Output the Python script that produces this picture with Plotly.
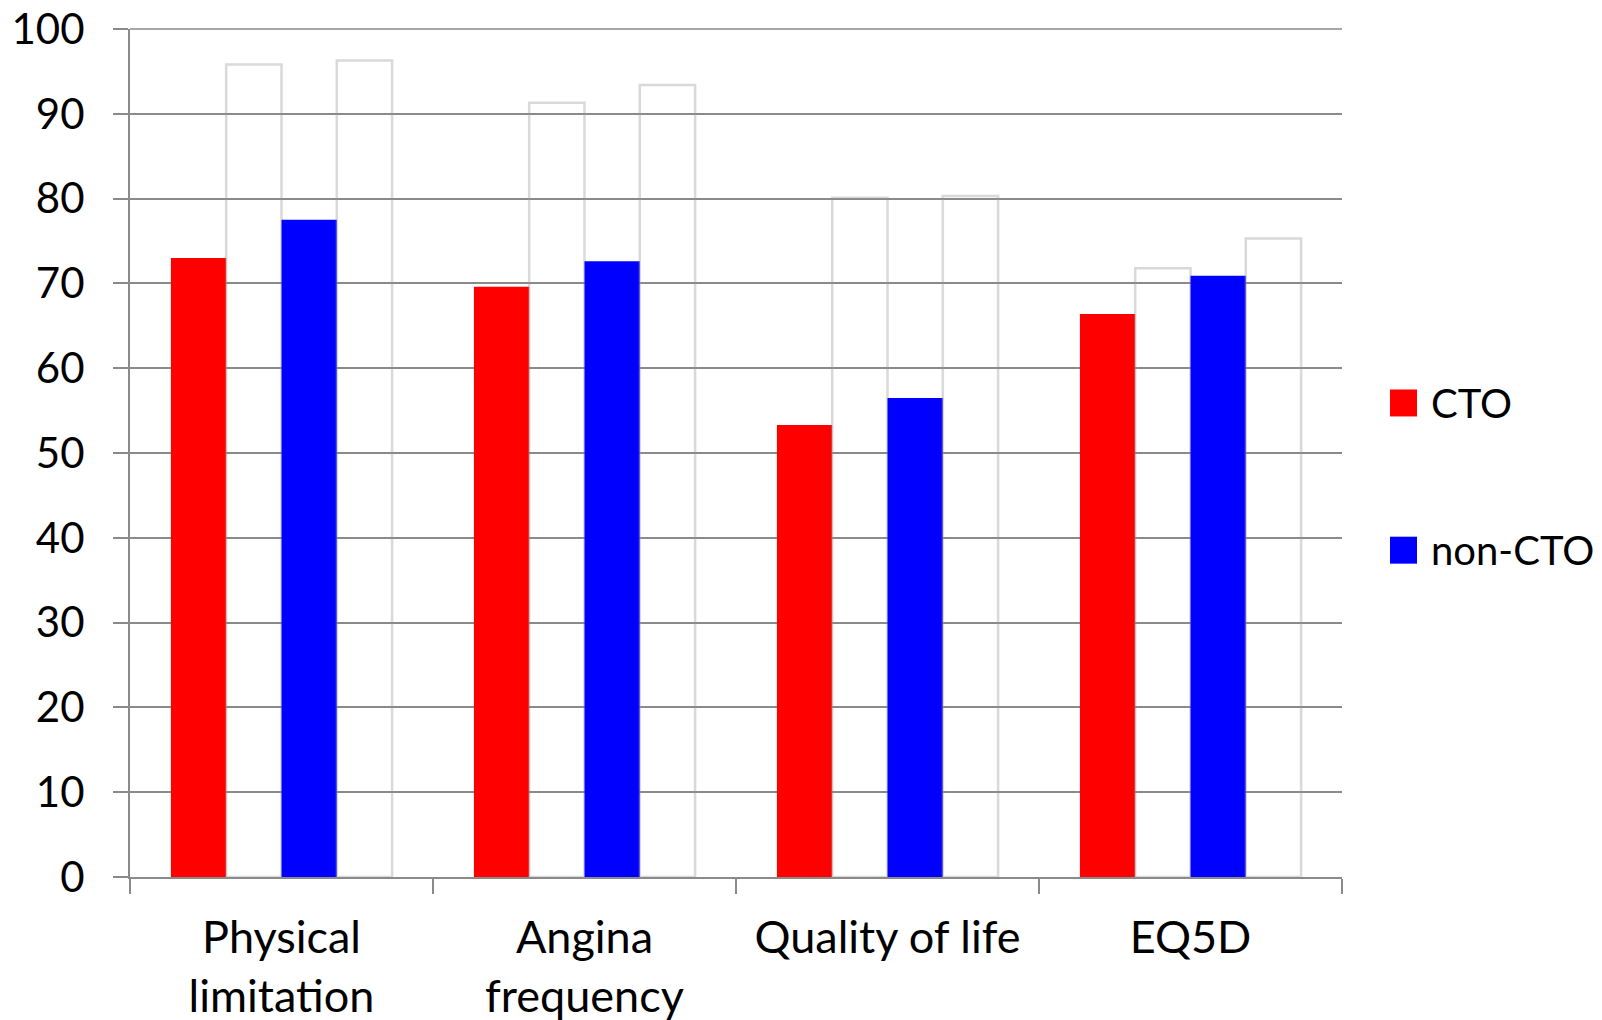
import plotly.graph_objects as go

categories = ["Physical<br>limitation", "Angina<br>frequency", "Quality of life", "EQ5D"]
series_names = ["CTO", "non-CTO"]
cto_values = [73.0, 69.6, 53.3, 66.4]
non_cto_values = [77.5, 72.6, 56.5, 70.9]
cto_upper = [95.8, 91.3, 80.1, 71.8]
non_cto_upper = [96.3, 93.4, 80.3, 75.3]
y_ticks = [0, 10, 20, 30, 40, 50, 60, 70, 80, 90, 100]

RED = "#ff0000"
BLUE = "#0000ff"
GRID = "#8a8a8a"
FONT = "Lato"
FS = 44

fig = go.Figure()
ghost = dict(color="rgba(255,255,255,0)", line=dict(color="rgba(150,150,150,0.36)", width=2.5))
fig.add_trace(go.Bar(x=categories, y=cto_values, name=series_names[0],
                     marker=dict(color=RED, line=dict(width=0)), showlegend=False))
fig.add_trace(go.Bar(x=categories, y=cto_upper, name="", marker=ghost, showlegend=False))
fig.add_trace(go.Bar(x=categories, y=non_cto_values, name=series_names[1],
                     marker=dict(color=BLUE, line=dict(width=0)), showlegend=False))
fig.add_trace(go.Bar(x=categories, y=non_cto_upper, name="", marker=ghost, showlegend=False))

# top gridline (plotly drops the gridline lying on the plot edge)
fig.add_shape(type="line", xref="paper", yref="paper", x0=0, x1=1, y0=1, y1=1,
              line=dict(color=GRID, width=1.6), layer="below")

# legend drawn manually (large square swatches)
legend_items = [(series_names[0], RED, 0.5590), (series_names[1], BLUE, 0.3854)]
for name, col, yc in legend_items:
    fig.add_shape(type="rect", xref="paper", yref="paper",
                  x0=1.0396, x1=1.0619, y0=yc - 0.0159, y1=yc + 0.0159,
                  fillcolor=col, line=dict(width=0))
    fig.add_annotation(text=name, xref="paper", yref="paper", x=1.0715, y=yc,
                       xanchor="left", yanchor="middle", showarrow=False,
                       font=dict(family=FONT, size=40, color="black"))

# page body has an 8px margin; compensate so the plot area lands where intended
fig.update_layout(
    width=1602, height=1020,
    margin=dict(l=122, r=268, t=21, b=151, pad=0),
    paper_bgcolor="white", plot_bgcolor="white",
    barmode="group", bargap=0.27, bargroupgap=0,
    font=dict(family=FONT, size=FS, color="black"),
    showlegend=False,
)
fig.update_yaxes(range=[0, 100], tickvals=y_ticks, showgrid=True, gridcolor=GRID, gridwidth=1.6,
                 showline=True, linecolor=GRID, linewidth=2, ticks="outside", ticklen=15,
                 tickcolor=GRID, tickwidth=2, zeroline=False, ticklabelstandoff=20,
                 automargin=False, ticklabeloverflow="allow",
                 tickfont=dict(family=FONT, size=42, color="black"))
fig.update_xaxes(showline=True, linecolor=GRID, linewidth=2, ticks="outside", ticklen=15,
                 tickcolor=GRID, tickwidth=2, tickson="boundaries", showgrid=False,
                 automargin=False, ticklabeloverflow="allow",
                 tickfont=dict(family=FONT, size=45, color="black"), ticklabelstandoff=20)

fig.write_html("out.html")
